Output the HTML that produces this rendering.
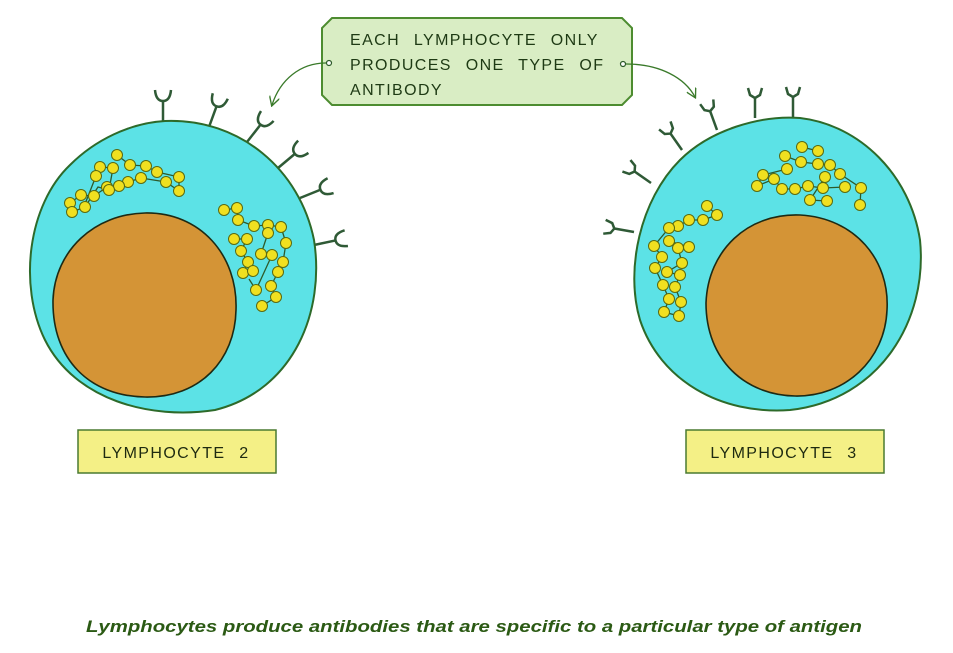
<!DOCTYPE html>
<html><head><meta charset="utf-8"><style>
html,body{margin:0;padding:0;background:#fff;width:953px;height:653px;overflow:hidden}
svg{display:block}
</style></head><body>
<svg width="953" height="653" viewBox="0 0 953 653" xmlns="http://www.w3.org/2000/svg">
<defs>
<g id="rl"><line x1="0" y1="0" x2="0" y2="-22" stroke="#2f5a36" stroke-width="2.5"/><path d="M-8,-33 Q-7,-22 0,-22 Q7,-22 8,-33" fill="none" stroke="#2f5a36" stroke-width="2.5"/></g>
<g id="rr"><line x1="0" y1="0" x2="0" y2="-20" stroke="#2f5a36" stroke-width="2.5"/><path d="M-7,-30 L-5,-23 L0,-20 L5,-23 L7,-30" fill="none" stroke="#2f5a36" stroke-width="2.5"/></g>
<marker id="ah" viewBox="0 0 10 10" refX="8" refY="5" markerWidth="8" markerHeight="8" orient="auto"><path d="M0,0 L9,5 L0,10" fill="none" stroke="#3a7a2a" stroke-width="1.3"/></marker>
</defs>

<use href="#rl" transform="translate(163,123) rotate(0)"/>
<use href="#rl" transform="translate(209,127) rotate(20)"/>
<use href="#rl" transform="translate(247,142) rotate(38)"/>
<use href="#rl" transform="translate(278,168) rotate(50)"/>
<use href="#rl" transform="translate(300,198) rotate(68)"/>
<use href="#rl" transform="translate(314,245) rotate(78)"/>
<path d="M165,121 C240,118 300,170 314,240 C325,310 295,390 215,410 C150,420 75,400 45,340 C18,285 28,205 70,165 C95,140 130,123 165,121 Z" fill="#5ce2e6" stroke="#2d6a2a" stroke-width="2"/>
<path d="M145,213 C200,212 238,255 236,310 C235,360 200,398 145,397 C90,396 52,360 53,300 C55,250 95,214 145,213 Z" fill="#d49436" stroke="#1e2a14" stroke-width="1.6"/>

<use href="#rr" transform="translate(755,118) rotate(0)"/>
<use href="#rr" transform="translate(793,117) rotate(0)"/>
<use href="#rr" transform="translate(717,130) rotate(-20)"/>
<use href="#rr" transform="translate(682,150) rotate(-35)"/>
<use href="#rr" transform="translate(651,183) rotate(-55)"/>
<use href="#rr" transform="translate(634,232) rotate(-80)"/>
<path d="M800,118 C860,125 910,175 920,240 C928,320 880,400 790,410 C720,415 660,380 640,320 C625,270 640,200 680,160 C710,130 760,115 800,118 Z" fill="#5ce2e6" stroke="#2d6a2a" stroke-width="2"/>
<path d="M800,215 C855,218 890,260 887,310 C885,360 845,397 795,396 C745,395 706,360 706,303 C708,250 748,213 800,215 Z" fill="#d49436" stroke="#1e2a14" stroke-width="1.6"/>

<g fill="none" stroke="#2d5a2a" stroke-width="1.3">
<path d="M117,155 L130,165 L146,166 L157,172 L179,177 L179,191 L166,182 L141,178 L128,182 L119,186 L107,187 L94,196 L81,195 L70,203 L72,212 L85,207 L98,187 L109,190 L113,168 L100,167 L96,176 L85,204"/>
<path d="M224,210 L237,208 L238,220 L254,226 L268,225 L281,227 L286,243 L283,262 L278,272 L271,286 L276,297 L262,306 M268,233 L261,254 L272,255 L256,290 L249,279 M234,239 L247,239 L241,251 L248,262 L243,273 L253,271"/>
<path d="M802,147 L818,151 M785,156 L801,162 L818,164 L830,165 L840,174 L861,188 L860,205 M787,169 L763,175 L757,186 L774,179 L782,189 L795,189 L808,186 L823,188 L845,187 M825,177 L810,200 L827,201"/>
<path d="M707,206 L717,215 L703,220 L689,220 L678,226 L669,228 L654,246 L662,257 L655,268 L663,285 L669,299 L664,312 L679,316 L681,302 L675,287 L680,275 L667,272 L682,263 L678,248 L689,247 L669,241"/>
</g>
<g fill="#f0e020" stroke="#5a6a10" stroke-width="1">
<circle cx="117" cy="155" r="5.5"/><circle cx="100" cy="167" r="5.5"/><circle cx="113" cy="168" r="5.5"/><circle cx="130" cy="165" r="5.5"/><circle cx="146" cy="166" r="5.5"/><circle cx="157" cy="172" r="5.5"/><circle cx="179" cy="177" r="5.5"/><circle cx="179" cy="191" r="5.5"/><circle cx="166" cy="182" r="5.5"/><circle cx="128" cy="182" r="5.5"/><circle cx="141" cy="178" r="5.5"/><circle cx="119" cy="186" r="5.5"/><circle cx="96" cy="176" r="5.5"/><circle cx="107" cy="187" r="5.5"/><circle cx="94" cy="196" r="5.5"/><circle cx="81" cy="195" r="5.5"/><circle cx="85" cy="207" r="5.5"/><circle cx="70" cy="203" r="5.5"/><circle cx="72" cy="212" r="5.5"/><circle cx="109" cy="190" r="5.5"/>
<circle cx="224" cy="210" r="5.5"/><circle cx="237" cy="208" r="5.5"/><circle cx="238" cy="220" r="5.5"/><circle cx="254" cy="226" r="5.5"/><circle cx="268" cy="225" r="5.5"/><circle cx="281" cy="227" r="5.5"/><circle cx="286" cy="243" r="5.5"/><circle cx="268" cy="233" r="5.5"/><circle cx="261" cy="254" r="5.5"/><circle cx="272" cy="255" r="5.5"/><circle cx="283" cy="262" r="5.5"/><circle cx="278" cy="272" r="5.5"/><circle cx="271" cy="286" r="5.5"/><circle cx="276" cy="297" r="5.5"/><circle cx="262" cy="306" r="5.5"/><circle cx="247" cy="239" r="5.5"/><circle cx="234" cy="239" r="5.5"/><circle cx="241" cy="251" r="5.5"/><circle cx="248" cy="262" r="5.5"/><circle cx="243" cy="273" r="5.5"/><circle cx="253" cy="271" r="5.5"/><circle cx="256" cy="290" r="5.5"/>
<circle cx="802" cy="147" r="5.5"/><circle cx="818" cy="151" r="5.5"/><circle cx="785" cy="156" r="5.5"/><circle cx="801" cy="162" r="5.5"/><circle cx="818" cy="164" r="5.5"/><circle cx="830" cy="165" r="5.5"/><circle cx="787" cy="169" r="5.5"/><circle cx="763" cy="175" r="5.5"/><circle cx="825" cy="177" r="5.5"/><circle cx="840" cy="174" r="5.5"/><circle cx="774" cy="179" r="5.5"/><circle cx="757" cy="186" r="5.5"/><circle cx="782" cy="189" r="5.5"/><circle cx="795" cy="189" r="5.5"/><circle cx="808" cy="186" r="5.5"/><circle cx="823" cy="188" r="5.5"/><circle cx="845" cy="187" r="5.5"/><circle cx="861" cy="188" r="5.5"/><circle cx="810" cy="200" r="5.5"/><circle cx="827" cy="201" r="5.5"/><circle cx="860" cy="205" r="5.5"/>
<circle cx="707" cy="206" r="5.5"/><circle cx="717" cy="215" r="5.5"/><circle cx="703" cy="220" r="5.5"/><circle cx="689" cy="220" r="5.5"/><circle cx="678" cy="226" r="5.5"/><circle cx="669" cy="228" r="5.5"/><circle cx="654" cy="246" r="5.5"/><circle cx="669" cy="241" r="5.5"/><circle cx="678" cy="248" r="5.5"/><circle cx="689" cy="247" r="5.5"/><circle cx="662" cy="257" r="5.5"/><circle cx="682" cy="263" r="5.5"/><circle cx="655" cy="268" r="5.5"/><circle cx="667" cy="272" r="5.5"/><circle cx="680" cy="275" r="5.5"/><circle cx="663" cy="285" r="5.5"/><circle cx="675" cy="287" r="5.5"/><circle cx="669" cy="299" r="5.5"/><circle cx="681" cy="302" r="5.5"/><circle cx="664" cy="312" r="5.5"/><circle cx="679" cy="316" r="5.5"/>
</g>

<path d="M332,18 L622,18 L632,28 L632,95 L622,105 L332,105 L322,95 L322,28 Z" fill="#d9edc4" stroke="#4d8c30" stroke-width="2"/>
<g font-family="Liberation Sans, sans-serif" font-size="16" fill="#1e3a14" letter-spacing="1.4" word-spacing="8">
<text x="350" y="45">EACH LYMPHOCYTE ONLY</text>
<text x="350" y="70">PRODUCES ONE TYPE OF</text>
<text x="350" y="95">ANTIBODY</text>
</g>
<circle cx="329" cy="63" r="2.5" fill="#fff" stroke="#2d5a2a" stroke-width="1.2"/>
<circle cx="623" cy="64" r="2.5" fill="#fff" stroke="#2d5a2a" stroke-width="1.2"/>
<path d="M326,63 C300,63 280,80 272,105" fill="none" stroke="#3a7a2a" stroke-width="1.3" marker-end="url(#ah)"/>
<path d="M626,64 C660,64 685,78 695,97" fill="none" stroke="#3a7a2a" stroke-width="1.3" marker-end="url(#ah)"/>

<rect x="78" y="430" width="198" height="43" fill="#f4f086" stroke="#4a7a30" stroke-width="1.5"/>
<text x="176" y="458" text-anchor="middle" font-family="Liberation Sans, sans-serif" font-size="16" fill="#1e2a10" letter-spacing="1.4" word-spacing="8">LYMPHOCYTE 2</text>
<rect x="686" y="430" width="198" height="43" fill="#f4f086" stroke="#4a7a30" stroke-width="1.5"/>
<text x="784" y="458" text-anchor="middle" font-family="Liberation Sans, sans-serif" font-size="16" fill="#1e2a10" letter-spacing="1.4" word-spacing="8">LYMPHOCYTE 3</text>

<text x="474" y="632" text-anchor="middle" font-family="Liberation Sans, sans-serif" font-size="17" font-style="italic" font-weight="bold" fill="#2b5a14" textLength="776" lengthAdjust="spacingAndGlyphs">Lymphocytes produce antibodies that are specific to a particular type of antigen</text>
</svg>
</body></html>
